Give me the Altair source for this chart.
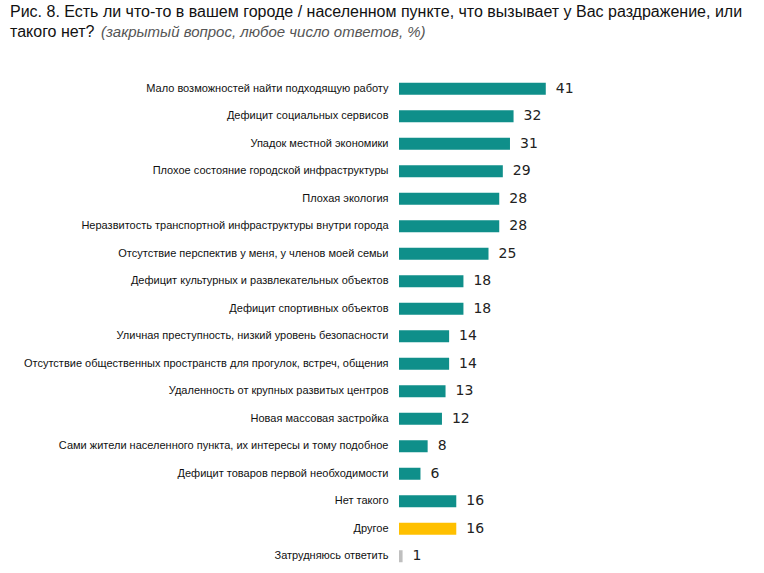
import altair as alt
import pandas as pd

categories = [
    "Мало возможностей найти подходящую работу",
    "Дефицит социальных сервисов",
    "Упадок местной экономики",
    "Плохое состояние городской инфраструктуры",
    "Плохая экология",
    "Неразвитость транспортной инфраструктуры внутри города",
    "Отсутствие перспектив у меня, у членов моей семьи",
    "Дефицит культурных и развлекательных объектов",
    "Дефицит спортивных объектов",
    "Уличная преступность, низкий уровень безопасности",
    "Отсутствие общественных пространств для прогулок, встреч, общения",
    "Удаленность от крупных развитых центров",
    "Новая массовая застройка",
    "Сами жители населенного пункта, их интересы и тому подобное",
    "Дефицит товаров первой необходимости",
    "Нет такого",
    "Другое",
    "Затрудняюсь ответить",
]
values = [41, 32, 31, 29, 28, 28, 25, 18, 18, 14, 14, 13, 12, 8, 6, 16, 16, 1]
colors = ["#0F8F8A"] * 16 + ["#FFC000", "#BFBFBF"]

title_line1 = "Рис. 8. Есть ли что-то в вашем городе / населенном пункте, что вызывает у Вас раздражение, или"
title_line2 = "такого нет?"
title_note = "(закрытый вопрос, любое число ответов, %)"

df = pd.DataFrame({"cat": categories, "val": values, "color": colors})

pi = 0.5636
y_enc = alt.Y("cat:N", sort=None,
              scale=alt.Scale(paddingInner=pi, paddingOuter=pi / 2),
              axis=alt.Axis(title=None, ticks=False, domain=False, grid=False, labelPadding=11,
                            labelFont="Liberation Sans", labelFontSize=11,
                            labelColor="#111", labelLimit=500))
x_enc = alt.X("val:Q", scale=alt.Scale(domain=[0, 100]), axis=None)

base = alt.Chart(df)
bars = base.mark_bar().encode(x=x_enc, y=y_enc, color=alt.Color("color:N", scale=None))
labels = base.mark_text(align="left", baseline="middle", dx=10, font="DejaVu Sans",
                        fontSize=14, color="#222").encode(x=x_enc, y=y_enc, text="val:Q")

t1 = alt.Chart(pd.DataFrame({"t": [title_line1]})).mark_text(
    align="left", baseline="middle", font="Liberation Sans",
    fontSize=16, color="#111").encode(text="t:N", x=alt.value(-389), y=alt.value(-63))
t2 = alt.Chart(pd.DataFrame({"t": [title_line2]})).mark_text(
    align="left", baseline="middle", font="Liberation Sans",
    fontSize=16, color="#111").encode(text="t:N", x=alt.value(-389), y=alt.value(-43))
t3 = alt.Chart(pd.DataFrame({"t": [title_note]})).mark_text(
    align="left", baseline="middle", font="Liberation Sans",
    fontSize=15, fontStyle="italic", color="#555").encode(text="t:N", x=alt.value(-298), y=alt.value(-43))

chart = alt.layer(bars, labels, t1, t2, t3).properties(
    width=358, height=495,
    background="white",
    autosize=alt.AutoSizeParams(type="none"),
    padding={"left": 399, "top": 75, "right": 7, "bottom": 3},
).configure_view(stroke=None)

chart.save("out.html", embed_options={"renderer": "svg", "actions": False})
